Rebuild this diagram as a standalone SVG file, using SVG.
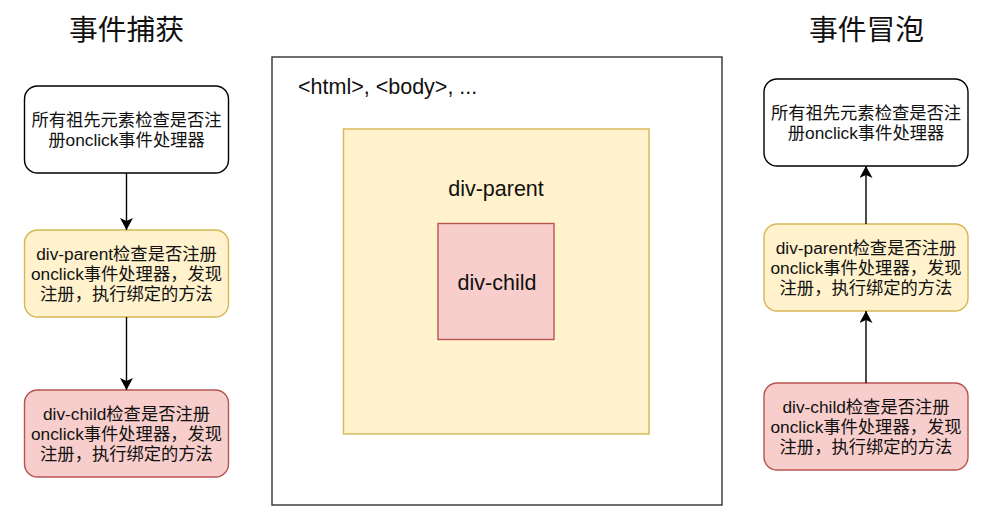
<svg xmlns="http://www.w3.org/2000/svg" width="1001" height="517" viewBox="0 0 1001 517">
  <style>
    text { font-family: "Liberation Sans", "Noto Sans CJK SC", sans-serif; fill: #111; }
    .title { font-size: 28.8px; text-anchor: middle; }
    .lbl { font-size: 17.3px; text-anchor: middle; }
    .big { font-size: 21.5px; }
    .plain { fill: #fff; stroke: #000; stroke-width: 1.4; }
    .yellow { fill: #fff2cc; stroke: #d6b656; stroke-width: 1.4; }
    .pink { fill: #f8cecc; stroke: #b85450; stroke-width: 1.4; }
    .conn { stroke: #000; stroke-width: 1.4; fill: none; marker-end: url(#arrow); }
  </style>
  <defs>
    <marker id="arrow" markerUnits="userSpaceOnUse" viewBox="0 0 12 13" refX="12" refY="6.5" markerWidth="12" markerHeight="13" orient="auto">
      <path d="M0,0 L12,6.5 L0,13 L3,6.5 Z" fill="#000"/>
    </marker>
  </defs>
  <rect width="1001" height="517" fill="#fff"/>

  <g id="title-capture"><text class="title" x="126.5" y="40">事件捕获</text></g>
  <g id="title-bubble"><text class="title" x="866.5" y="40">事件冒泡</text></g>

  <g id="html-box">
    <rect x="272" y="57" width="450" height="448" fill="#fff" stroke="#333" stroke-width="1.4"/>
    <text class="big" x="298" y="94">&lt;html&gt;, &lt;body&gt;, ...</text>
  </g>
  <g id="div-parent-box">
    <rect class="yellow" x="343.5" y="129" width="305.5" height="305"/>
    <text class="big" x="496" y="196" text-anchor="middle">div-parent</text>
  </g>
  <g id="div-child-box">
    <rect class="pink" x="438" y="223.5" width="116" height="116"/>
    <text class="big" x="497" y="290" text-anchor="middle">div-child</text>
  </g>

  <g id="cap-ancestors">
    <rect class="plain" x="24.5" y="86" width="204" height="87" rx="13"/>
    <text class="lbl" x="126.5" y="125.5">所有祖先元素检查是否注</text>
    <text class="lbl" x="126.5" y="145.5">册onclick事件处理器</text>
  </g>
  <g id="cap-parent">
    <rect class="yellow" x="24.5" y="230" width="204" height="87" rx="13"/>
    <text class="lbl" x="126.5" y="259.5">div-parent检查是否注册</text>
    <text class="lbl" x="126.5" y="279.5">onclick事件处理器，发现</text>
    <text class="lbl" x="126.5" y="299.5">注册，执行绑定的方法</text>
  </g>
  <g id="cap-child">
    <rect class="pink" x="24.5" y="390" width="204" height="87" rx="13"/>
    <text class="lbl" x="126.5" y="419.5">div-child检查是否注册</text>
    <text class="lbl" x="126.5" y="439.5">onclick事件处理器，发现</text>
    <text class="lbl" x="126.5" y="459.5">注册，执行绑定的方法</text>
  </g>

  <g id="bub-ancestors">
    <rect class="plain" x="764" y="79" width="204" height="87" rx="13"/>
    <text class="lbl" x="866" y="118.5">所有祖先元素检查是否注</text>
    <text class="lbl" x="866" y="138.5">册onclick事件处理器</text>
  </g>
  <g id="bub-parent">
    <rect class="yellow" x="764" y="224" width="204" height="87" rx="13"/>
    <text class="lbl" x="866" y="253.5">div-parent检查是否注册</text>
    <text class="lbl" x="866" y="273.5">onclick事件处理器，发现</text>
    <text class="lbl" x="866" y="293.5">注册，执行绑定的方法</text>
  </g>
  <g id="bub-child">
    <rect class="pink" x="764" y="383" width="204" height="87" rx="13"/>
    <text class="lbl" x="866" y="412.5">div-child检查是否注册</text>
    <text class="lbl" x="866" y="432.5">onclick事件处理器，发现</text>
    <text class="lbl" x="866" y="452.5">注册，执行绑定的方法</text>
  </g>

  <g id="connectors">
    <line class="conn" x1="126.5" y1="173" x2="126.5" y2="230"/>
    <line class="conn" x1="126.5" y1="317" x2="126.5" y2="390"/>
    <line class="conn" x1="866" y1="224" x2="866" y2="166"/>
    <line class="conn" x1="866" y1="383" x2="866" y2="311"/>
  </g>
</svg>
